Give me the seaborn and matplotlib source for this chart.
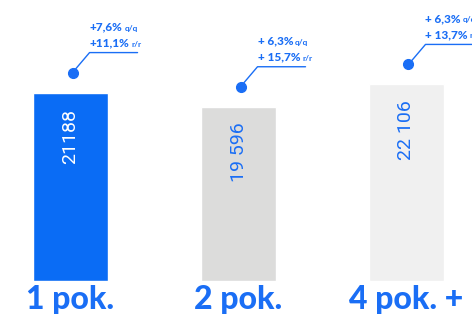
import matplotlib
matplotlib.use("Agg")
import matplotlib.pyplot as plt
from matplotlib.transforms import IdentityTransform
import seaborn as sns
import pandas as pd

# data
categories = ["1 pok.", "2 pok.", "4 pok. +"]
prices = [21188, 19596, 22106]
value_labels = ["21188", "19 596", "22 106"]
qq_labels = ["+7,6%", "+ 6,3%", "+ 6,3%"]
rr_labels = ["+11,1%", "+ 15,7%", "+ 13,7%"]

bar_colors = ["#0a6cf5", "#dcdcdb", "#f0f0f0"]
label_colors = ["white", "#1a6ef5", "#1a6ef5"]
blue = "#1a6ef5"

df = pd.DataFrame({"cat": categories, "price": prices})

sns.set_style("white")
plt.rcParams["font.family"] = ["Lato", "DejaVu Sans"]

fig = plt.figure(figsize=(4.72, 3.22), dpi=100)
ax = fig.add_axes([0, 41 / 322, 1, 281 / 322])

sns.barplot(data=df, x="cat", y="price", hue="cat", palette=bar_colors,
            width=0.446, legend=False, ax=ax, saturation=1)

ax.set_xlim(-0.42, 2.39)
ax.set_ylim(0, 31600)
sns.despine(ax=ax, left=True, bottom=True)
ax.set_yticks([])
ax.set_xlabel("")
ax.set_ylabel("")
ax.tick_params(axis="x", length=0, pad=3)
ax.set_xticks(range(len(categories)))
ax.set_xticklabels(categories, fontsize=23, fontweight="black", color=blue)

ident = IdentityTransform()
fig.canvas.draw()
r = fig.canvas.get_renderer()
for i, v in enumerate(prices):
    # value inside the bar
    bx, by = ax.transData.transform((i, v))
    ax.text(bx, by - 16, value_labels[i], transform=ident, rotation=90,
            ha="center", va="top", fontsize=14, color=label_colors[i],
            family=["Roboto", "DejaVu Sans"], fontweight="normal")
    # dot + leader line
    dx, dy = bx + 2, by + 20
    ax.plot([dx], [dy], "o", color=blue, markersize=7, transform=ident,
            clip_on=False)
    kx, ky = dx + 17, dy + 20
    ax.plot([dx, kx, kx + 48], [dy, ky, ky], color=blue, lw=1,
            transform=ident, clip_on=False)
    t1 = ax.text(kx, ky + 6, rr_labels[i], transform=ident, fontsize=8.5,
                 fontweight="black", color=blue, ha="left", va="baseline")
    t2 = ax.text(kx, ky + 22, qq_labels[i], transform=ident, fontsize=8.5,
                 fontweight="black", color=blue, ha="left", va="baseline")
    # small suffixes
    w1 = t1.get_window_extent(r).width
    w2 = t2.get_window_extent(r).width
    ax.text(kx + w1 + 2, ky + 6, "r/r", transform=ident, fontsize=6,
            fontweight="bold", color=blue, ha="left", va="baseline")
    ax.text(kx + w2 + 2, ky + 22, "q/q", transform=ident, fontsize=6,
            fontweight="bold", color=blue, ha="left", va="baseline")

fig.savefig("out.png", dpi=100)
